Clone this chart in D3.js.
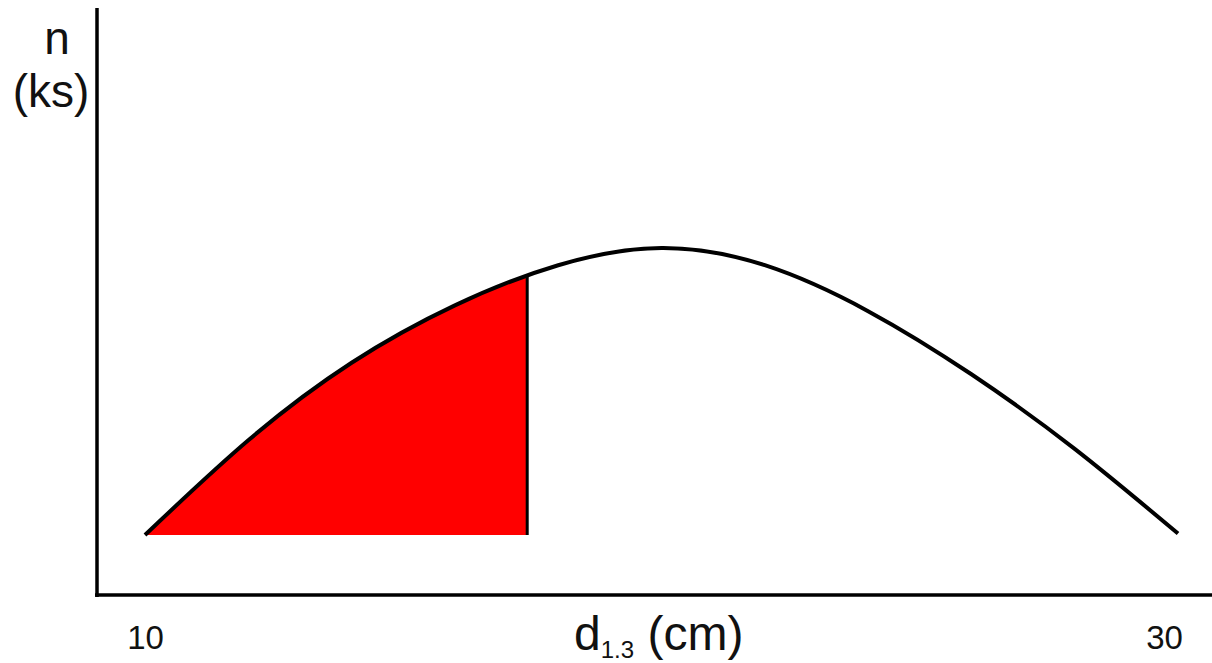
<!DOCTYPE html>
<html>
<head>
<meta charset="utf-8">
<script src="https://cdn.jsdelivr.net/npm/d3@7"></script>
<style>
  body { margin: 0; background: #fff; }
  svg { display: block; font-family: "Liberation Sans", Arial, sans-serif; }
</style>
</head>
<body>
<div id="container"></div>
<script>
const width = 1212;
const height = 663;

// diameter classes (cm) and tree counts
const diameters = [10, 12, 14, 16, 18, 20, 22, 24, 26, 28, 30];
const counts = [0, 33, 60, 80, 94, 100, 94, 78, 56, 30, 0.5];
const cutoff = 17.4;
const tickValues = [10, 30];
const tickLabels = ["10", "30"];

const data = diameters.map((d, i) => ({ d: d, n: counts[i] }));

const x = d3.scaleLinear().domain([10, 30]).range([145, 1178]);
const y = d3.scaleLinear().domain([0, 100]).range([535, 248]);

const axisX = 97;
const axisY = 595;

const svg = d3.select("#container")
  .append("svg")
  .attr("width", width)
  .attr("height", height);

const curve = d3.curveNatural;

const area = d3.area()
  .x(d => x(d.d))
  .y0(y(0))
  .y1(d => y(d.n))
  .curve(curve);

const line = d3.line()
  .x(d => x(d.d))
  .y(d => y(d.n))
  .curve(curve);

const defs = svg.append("defs");
defs.append("clipPath")
  .attr("id", "left-part")
  .append("rect")
  .attr("x", x(10))
  .attr("y", 0)
  .attr("width", x(cutoff) - x(10))
  .attr("height", height);

defs.append("clipPath")
  .attr("id", "under-curve")
  .append("path")
  .attr("d", area(data));

// red share below the cutoff diameter
svg.append("path")
  .datum(data)
  .attr("d", area)
  .attr("fill", "#ff0000")
  .attr("clip-path", "url(#left-part)");

svg.append("line")
  .attr("x1", x(cutoff))
  .attr("x2", x(cutoff))
  .attr("y1", y(0))
  .attr("y2", y(100) - 10)
  .attr("stroke", "#000")
  .attr("stroke-width", 3)
  .attr("clip-path", "url(#under-curve)");

svg.append("path")
  .datum(data)
  .attr("d", line)
  .attr("fill", "none")
  .attr("stroke", "#000")
  .attr("stroke-width", 4);

// axes
svg.append("line")
  .attr("x1", axisX).attr("x2", axisX)
  .attr("y1", 8).attr("y2", axisY + 2)
  .attr("stroke", "#000").attr("stroke-width", 3.5);

svg.append("line")
  .attr("x1", axisX - 2).attr("x2", width)
  .attr("y1", axisY).attr("y2", axisY)
  .attr("stroke", "#000").attr("stroke-width", 3.5);

const xAxis = svg.append("g")
  .attr("transform", `translate(0,${axisY})`)
  .call(d3.axisBottom(x)
    .tickValues(tickValues)
    .tickSize(0)
    .tickPadding(31)
    .tickFormat((d, i) => tickLabels[i]));

xAxis.select(".domain").remove();
xAxis.selectAll("text")
  .attr("font-size", 33)
  .attr("font-family", "Liberation Sans, Arial, sans-serif")
  .attr("fill", "#111")
  .attr("dx", (d, i) => i === tickValues.length - 1 ? -14 : 0);

// x label: d1.3 (cm)
const xLabel = svg.append("text")
  .attr("x", 574)
  .attr("y", 650)
  .attr("font-size", 48)
  .attr("fill", "#111");
xLabel.append("tspan").text("d");
xLabel.append("tspan").attr("font-size", 24).attr("dy", 8).text("1.3");
xLabel.append("tspan").attr("dy", -8).text(" (cm)");

// y label: n (ks)
svg.append("text")
  .attr("x", 57)
  .attr("y", 54)
  .attr("text-anchor", "middle")
  .attr("font-size", 46)
  .attr("fill", "#111")
  .text("n");

svg.append("text")
  .attr("x", 51)
  .attr("y", 107)
  .attr("text-anchor", "middle")
  .attr("font-size", 46)
  .attr("fill", "#111")
  .text("(ks)");
</script>
</body>
</html>
